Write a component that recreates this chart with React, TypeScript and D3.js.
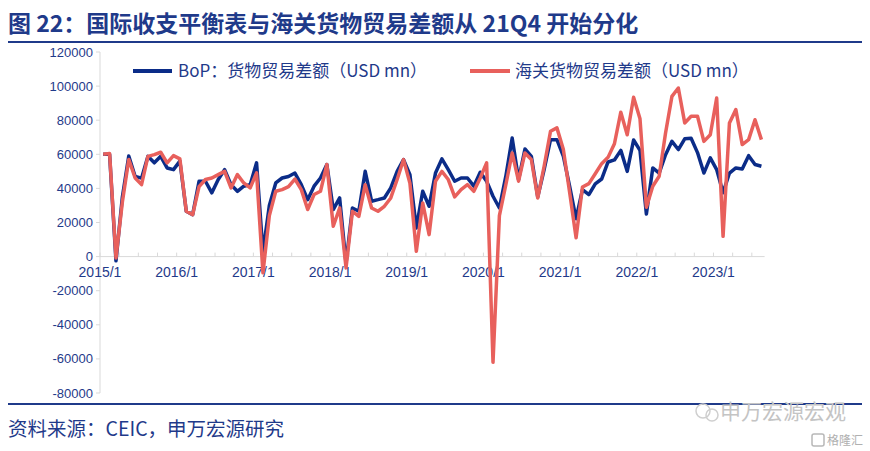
import React from 'react';
import * as d3 from 'd3';

// months 2015/1 .. 2023/8
const months: string[] = d3
  .timeMonth.range(new Date(2015, 0, 1), new Date(2023, 8, 1))
  .map((d) => `${d.getFullYear()}/${d.getMonth() + 1}`);

// BoP goods trade balance (USD mn)
const bopValues = [
  60000, 60000, -2500, 35000, 59000, 47000, 46000, 58800, 55000, 58800, 52000, 51000,
  56000, 26600, 24600, 44200, 44200, 37400, 45200, 51000, 42200, 38300, 41300, 42200,
  55000, 2500, 30000, 43200, 46100, 47000, 49000, 42200, 33400, 41300, 46100, 54000,
  27600, 34400, -4000, 28500, 26600, 50000, 32500, 33400, 34400, 40300, 50000, 56900,
  48000, 16800, 38300, 29500, 49000, 57300, 51000, 44200, 46100, 46100, 41300, 49500,
  44200, 35400, 28500, 47000, 69600, 45200, 63100, 58800, 35000, 51000, 68600, 68600,
  59000, 41000, 22200, 39300, 36400, 42700, 45500, 55500, 56700, 62300, 50000, 68400,
  62300, 25000, 52000, 49000, 59800, 67600, 62800, 69100, 69400, 61000, 49000, 57900,
  51000, 37400, 49000, 52000, 51400, 59200, 54000, 53000,
];

// customs goods trade balance (USD mn)
const customsValues = [
  60000, 60500, -800, 32000, 57000, 46100, 42200, 58800, 59800, 61200, 55000, 59200,
  57300, 26600, 24600, 41000, 45200, 46100, 48100, 50000, 40300, 48100, 43200, 40300,
  49100, -9500, 24000, 38300, 39300, 41000, 45500, 39300, 27600, 36400, 38300, 54000,
  17800, 28500, -6600, 26600, 23600, 42200, 28500, 26600, 29500, 34400, 45200, 56900,
  43000, 3100, 31500, 12900, 44200, 50000, 45200, 35000, 39300, 42200, 38300, 46100,
  55000, -62000, 24000, 42000, 60800, 44200, 60800, 56900, 34400, 53000, 73500, 75500,
  63000, 37400, 11000, 40800, 42800, 48600, 54500, 58200, 66200, 84700, 71500, 93500,
  80800, 29000, 41300, 47100, 72500, 94000, 98900, 78400, 82300, 82300, 67600, 71500,
  93000, 11900, 78400, 86200, 65700, 68600, 80300, 68600,
];

const yTicks = [-80000, -60000, -40000, -20000, 0, 20000, 40000, 60000, 80000, 100000, 120000];

const seriesNames = ['BoP：货物贸易差额（USD mn）', '海关货物贸易差额（USD mn）'];
const title = '图 22：国际收支平衡表与海关货物贸易差额从 21Q4 开始分化';
const source = '资料来源：CEIC，申万宏源研究';

const W = 870;
const H = 451;
const NAVY = '#1f3a8a';
const BLUE = '#0b2c88';
const RED = '#e8605c';
const AXIS = '#d9d9d9';
const FONT = '"Noto Sans CJK SC", "Liberation Sans", Arial, sans-serif';
const NUM_FONT = '"Liberation Sans", Arial, sans-serif';

export default function App() {
  const x = d3.scaleBand<string>().domain(months).range([100, 764.6]).padding(0);
  const y = d3.scaleLinear().domain([-80000, 120000]).range([393, 52]);
  const cx = (i: number) => (x(months[i]) ?? 0) + x.bandwidth() / 2;

  const line = d3
    .line<number>()
    .x((_, i) => cx(i))
    .y((d) => y(d));

  const y0 = y(0);
  const quarterTicks = months.filter((_, i) => i % 3 === 0);
  const yearTicks = months.filter((_, i) => i % 12 === 0);

  return (
    <svg width={W} height={H} style={{ position: 'absolute', left: 0, top: 0, background: '#fff' }} fontFamily={FONT}>
      {/* title */}
      <text x={8} y={32} fontSize={23} fontWeight="bold" fill={NAVY}>
        {title}
      </text>
      <line x1={8} x2={862} y1={42} y2={42} stroke={NAVY} strokeWidth={2} />

      {/* y axis */}
      <line x1={100} x2={100} y1={y(120000)} y2={y(-80000)} stroke={AXIS} strokeWidth={1} />
      {yTicks.map((t) => (
        <g key={t}>
          <line x1={96} x2={100} y1={y(t)} y2={y(t)} stroke={AXIS} />
          <text x={93} y={y(t)} dy="0.35em" textAnchor="end" fontSize={13} fill={NAVY} fontFamily={NUM_FONT}>
            {t}
          </text>
        </g>
      ))}

      {/* x axis at zero */}
      <line x1={100} x2={764.6} y1={y0} y2={y0} stroke={AXIS} strokeWidth={1} />
      {quarterTicks.map((m) => (
        <line key={m} x1={x(m)} x2={x(m)} y1={y0 - 4} y2={y0} stroke={AXIS} />
      ))}
      {yearTicks.map((m) => (
        <text key={m} x={x(m)} y={y0 + 20} textAnchor="middle" fontSize={14} fill={NAVY} fontFamily={NUM_FONT}>
          {m}
        </text>
      ))}

      {/* series */}
      <path d={line(bopValues) ?? ''} fill="none" stroke={BLUE} strokeWidth={3.5} strokeLinejoin="round" />
      <path d={line(customsValues) ?? ''} fill="none" stroke={RED} strokeWidth={3.5} strokeLinejoin="round" />

      {/* legend */}
      <line x1={133} x2={172} y1={71} y2={71} stroke={BLUE} strokeWidth={4} />
      <text x={178} y={71} dy="0.35em" fontSize={17} fill={NAVY}>
        {seriesNames[0]}
      </text>
      <line x1={470} x2={510} y1={71} y2={71} stroke={RED} strokeWidth={4} />
      <text x={515} y={71} dy="0.35em" fontSize={17} fill={NAVY}>
        {seriesNames[1]}
      </text>

      {/* footer */}
      <line x1={8} x2={862} y1={404} y2={404} stroke={NAVY} strokeWidth={2} />
      <text x={8} y={436} fontSize={19.5} fill={NAVY}>
        {source}
      </text>
      <circle cx={703} cy={411} r={7} fill="none" stroke="#cfcfcf" strokeWidth={1.5} />
      <circle cx={712} cy={415} r={6} fill="none" stroke="#cfcfcf" strokeWidth={1.5} />
      <text x={720} y={419} fontSize={21} fill="#c4c4c4">
        申万宏源宏观
      </text>
      <rect x={812} y={434} width={12} height={12} rx={2} fill="none" stroke="#b8b8b8" strokeWidth={1.5} />
      <text x={827} y={445} fontSize={12} fill="#b0b0b0">
        格隆汇
      </text>
    </svg>
  );
}
